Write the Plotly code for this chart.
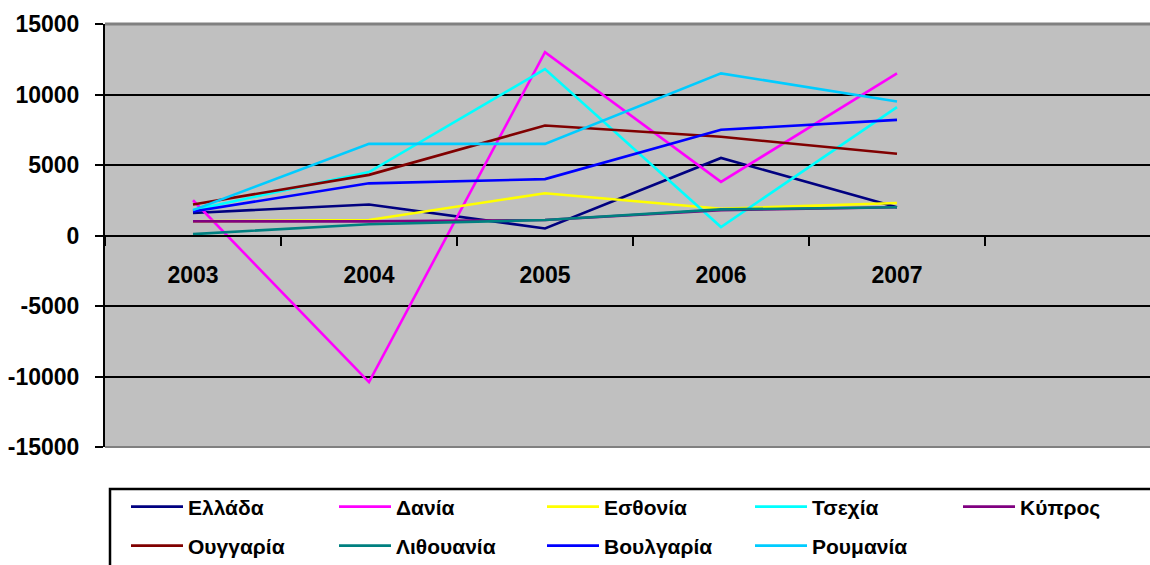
import plotly.graph_objects as go

years = ["2003", "2004", "2005", "2006", "2007"]
slots = ["2003", "2004", "2005", "2006", "2007", " "]

series_names = ["Ελλάδα", "Δανία", "Εσθονία", "Τσεχία", "Κύπρος",
                "Ουγγαρία", "Λιθουανία", "Βουλγαρία", "Ρουμανία"]
ellada = [1600, 2200, 500, 5500, 2000]
dania = [2500, -10400, 13000, 3800, 11500]
esthonia = [1000, 1100, 3000, 1900, 2300]
tsexia = [1800, 4500, 11800, 600, 9100]
kypros = [1000, 1000, 1100, 1800, 2000]
oyggaria = [2200, 4300, 7800, 7000, 5800]
lithouania = [100, 800, 1100, 1850, 2000]
voulgaria = [1700, 3700, 4000, 7500, 8200]
roumania = [1800, 6500, 6500, 11500, 9500]

values = [ellada, dania, esthonia, tsexia, kypros,
          oyggaria, lithouania, voulgaria, roumania]
colors = ["#000080", "#FF00FF", "#FFFF00", "#00FFFF", "#800080",
          "#800000", "#008080", "#0000FF", "#00CCFF"]
legend_rows = ["legend", "legend", "legend", "legend", "legend",
               "legend2", "legend2", "legend2", "legend2"]

y_ticks = [-15000, -10000, -5000, 0, 5000, 10000, 15000]

font_family = "Arial, Liberation Sans, sans-serif"

fig = go.Figure()
for name, vals, col, lg in zip(series_names, values, colors, legend_rows):
    fig.add_trace(go.Scatter(x=years, y=vals, name=name, mode="lines",
                             line=dict(color=col, width=2.6), legend=lg))

legend_common = dict(
    orientation="h",
    xref="paper", yref="container",
    x=(126 - 105) / 1045, xanchor="left",
    yanchor="middle",
    bgcolor="rgba(0,0,0,0)",
    borderwidth=0,
    entrywidth=141,
    entrywidthmode="pixels",
    itemwidth=52,
    font=dict(family=font_family, size=21, color="black", weight="bold"),
    traceorder="normal",
)

fig.update_layout(
    width=1150, height=565,
    margin=dict(l=105, r=0, t=24, b=118, autoexpand=False),
    paper_bgcolor="white",
    plot_bgcolor="#C0C0C0",
    showlegend=True,
    font=dict(family=font_family, color="black", size=23, weight="bold"),
    legend=dict(legend_common, y=(565 - 507) / 565),
    legend2=dict(legend_common, y=(565 - 546) / 565),
    xaxis=dict(
        type="category",
        categoryorder="array",
        categoryarray=slots,
        range=[-0.5, 5.4375],
        anchor="free",
        position=0.5,
        showline=True, linecolor="black", linewidth=2,
        ticks="outside", tickson="boundaries", ticklen=9, tickwidth=2, tickcolor="black",
        ticklabelstandoff=19,
        showgrid=False,
        tickfont=dict(family=font_family, size=23, color="black", weight="bold"),
        zeroline=False,
    ),
    yaxis=dict(
        range=[-15000, 15000],
        tickvals=y_ticks,
        ticktext=[str(v) for v in y_ticks],
        showgrid=True, gridcolor="black", gridwidth=2,
        zeroline=False,
        showline=True, linecolor="black", linewidth=2,
        ticks="outside", ticklen=8, tickwidth=2, tickcolor="black",
        ticklabelstandoff=11,
        tickfont=dict(family=font_family, size=23, color="black", weight="bold"),
    ),
    shapes=[
        dict(type="line", xref="paper", yref="paper", x0=0, x1=1, y0=1, y1=1,
             line=dict(color="#808080", width=3), layer="above"),
        dict(type="line", xref="paper", yref="paper", x0=0, x1=1, y0=0, y1=0,
             line=dict(color="#808080", width=2), layer="above"),
        dict(type="rect", xref="paper", yref="paper",
             x0=(110 - 105) / 1045, x1=1.05,
             y0=(447 - 580) / 423, y1=(447 - 489) / 423,
             line=dict(color="black", width=2.5), fillcolor="rgba(0,0,0,0)"),
    ],
)

fig.write_html("out.html")
